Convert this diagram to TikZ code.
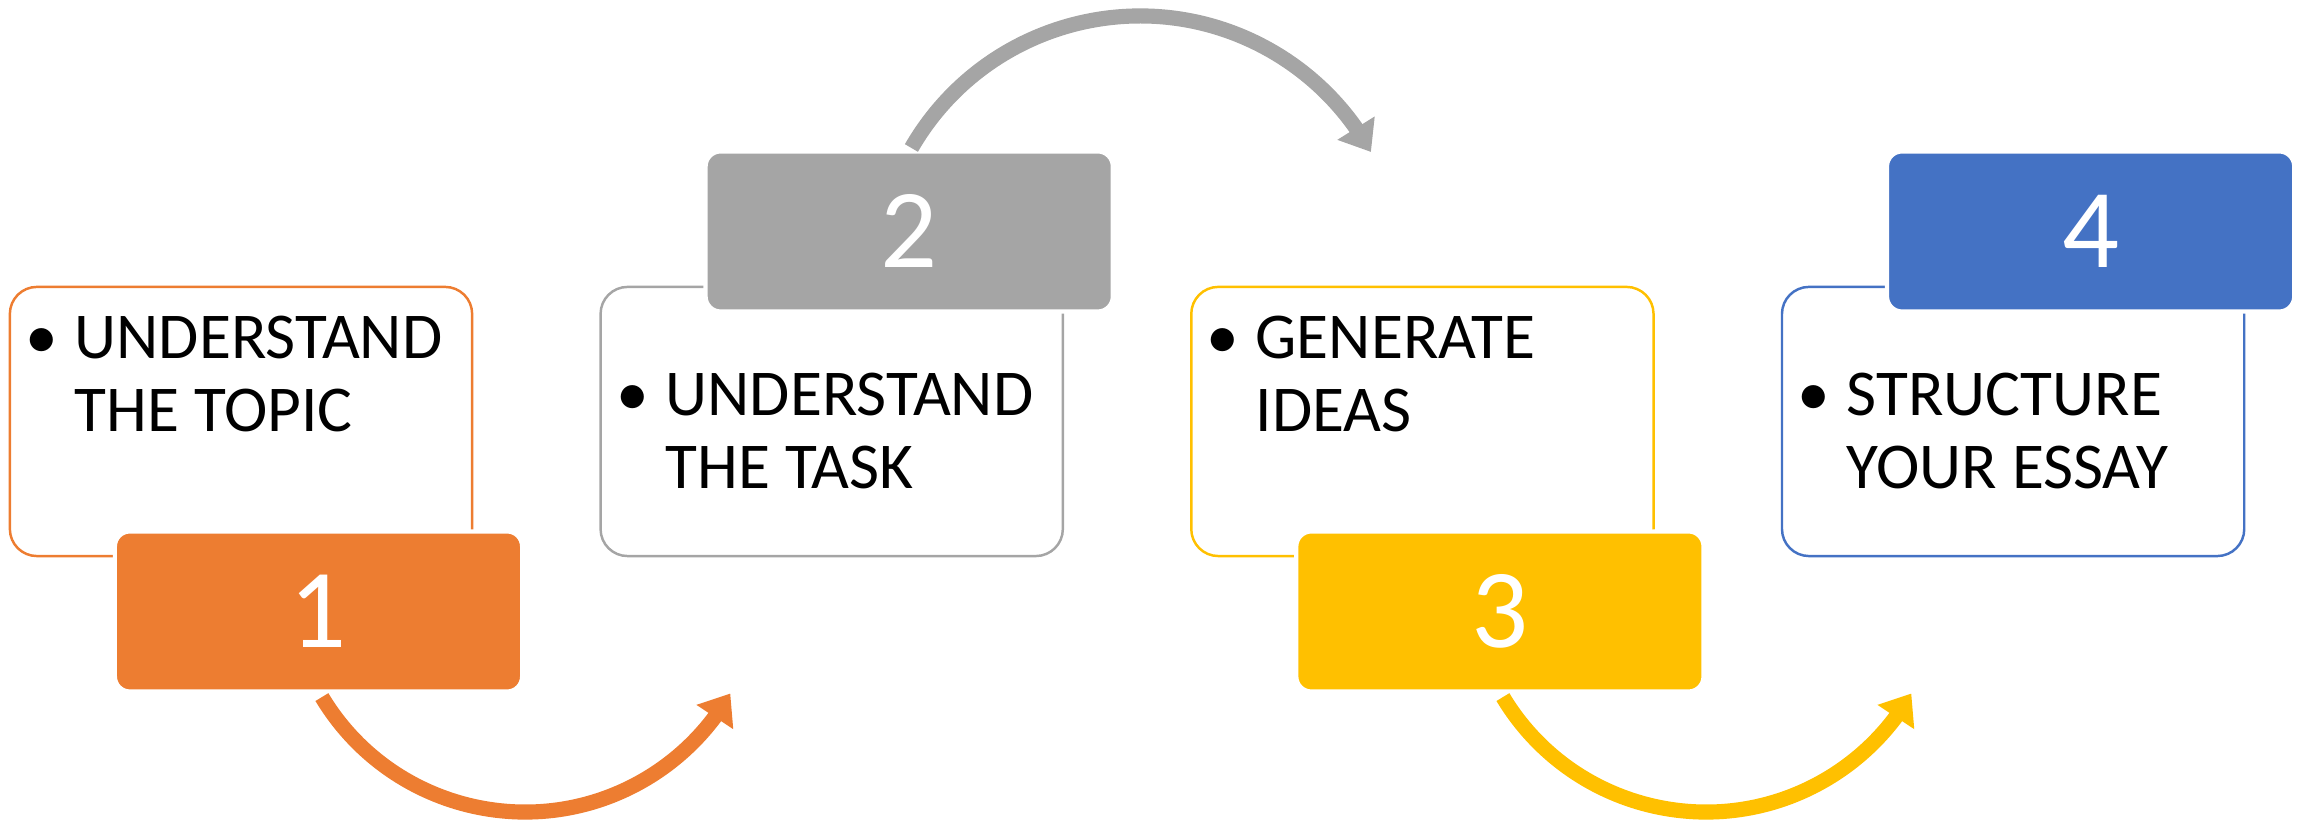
\documentclass[tikz,border=0pt]{standalone}
\usepackage{fontspec}
\setmainfont{Carlito}
\usetikzlibrary{arrows.meta,bending}
\definecolor{orangeA}{HTML}{ED7D31}
\definecolor{grayA}{HTML}{A5A5A5}
\definecolor{yellowA}{HTML}{FFC000}
\definecolor{blueA}{HTML}{4472C4}
\begin{document}
\begin{tikzpicture}[x=0.01cm,y=0.01cm]
      \tikzstyle{every node}+=[inner sep=0pt]
      \tikzstyle{frame}=[draw, line width=0.7pt, rounded corners=0.27cm, minimum width=4.62cm, minimum height=2.69cm]
      \tikzstyle{tab}=[draw=white, line width=1.2pt, rounded corners=0.15cm, minimum width=4.07cm, minimum height=1.6cm, text=white, font=\fontsize{32}{36}\selectfont]
      \tikzstyle{item}=[anchor=base west, align=left, font=\fontsize{18.6}{20.8}\selectfont]
      \tikzstyle{dot}=[anchor=base, font=\fontsize{18.6}{20.8}\selectfont]
      \tikzstyle{turn}=[line width=4.3pt, -{Triangle[width=12pt,length=8pt,flex]}]
      \useasboundingbox (0,0) rectangle (2306,822);
      \node [frame, draw=orangeA] (f1) at (241,400.5) {};
      \node [frame, draw=grayA] (f2) at (831.7,400.5) {};
      \node [frame, draw=yellowA] (f3) at (1422.4,400.5) {};
      \node [frame, draw=blueA] (f4) at (2013.1,400.5) {};
      \node [tab, fill=orangeA] (n1) at (318.5,210.5) {1};
      \node [tab, fill=grayA] (n2) at (909.2,590.5) {2};
      \node [tab, fill=yellowA] (n3) at (1499.9,210.5) {3};
      \node [tab, fill=blueA] (n4) at (2090.6,590.5) {4};
      \node [dot] (b1) at (42,463) {•};
      \node [item] (s1) at (74,390) {UNDERSTAND\\THE TOPIC};
      \node [dot] (b2) at (633,406) {•};
      \node [item] (s2) at (665,333) {UNDERSTAND\\THE TASK};
      \node [dot] (b3) at (1223,463) {•};
      \node [item] (s3) at (1255,390) {GENERATE\\IDEAS};
      \node [dot] (b4) at (1814,406) {•};
      \node [item] (s4) at (1846,333) {STRUCTURE\\YOUR ESSAY};
      \coordinate (a1) at (321.9,124.9);
      \coordinate (a2) at (911.4,674);
      \coordinate (a3) at (1502.9,124.9);
      \draw [turn, orangeA] (a1) arc [start angle=211, end angle=330, radius=237];
      \draw [turn, grayA] (a2) arc [start angle=150, end angle=29, radius=264];
      \draw [turn, yellowA] (a3) arc [start angle=211, end angle=330, radius=237];
\end{tikzpicture}
\end{document}
